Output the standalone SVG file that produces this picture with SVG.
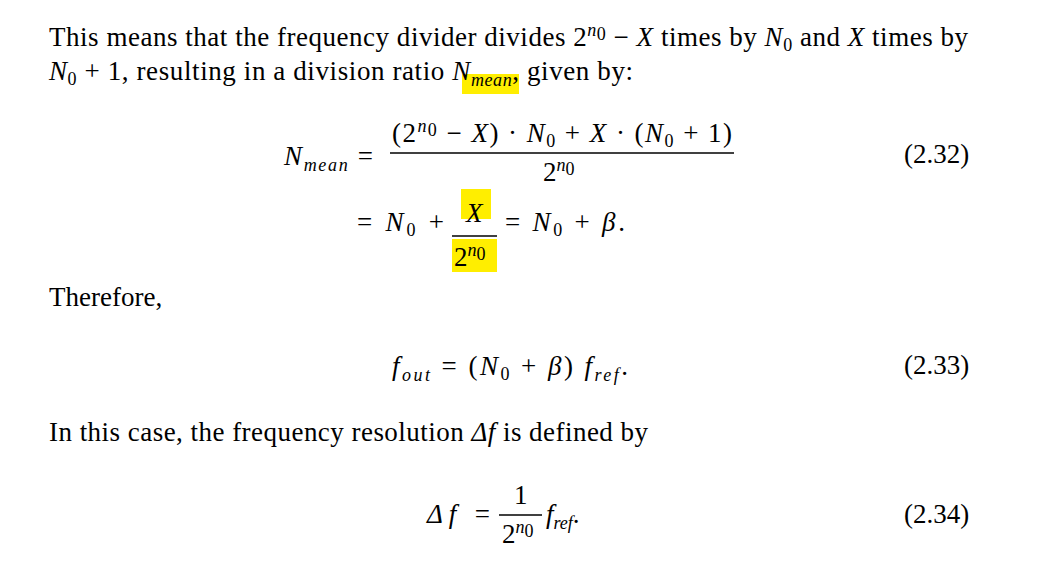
<svg xmlns="http://www.w3.org/2000/svg" width="1037" height="562" viewBox="0 0 1037 562">
<style>
text{font-family:"Liberation Serif","Times New Roman",serif;font-size:27px;fill:#000}
.i{font-style:italic}
.s{font-size:18px}
.hl{fill:#ffee00}
.bar{stroke:#000;stroke-width:1.3}
</style>
<rect width="1037" height="562" fill="#fff"/>
<g id="highlights">
<rect class="hl" x="462" y="74" width="57" height="20"/>
<rect class="hl" x="461" y="189" width="30" height="30"/>
<rect class="hl" x="452" y="239" width="45" height="33"/>
</g>
<g id="para1">
<text x="49" y="46" textLength="919" lengthAdjust="spacing">This means that the frequency divider divides 2<tspan class="i s" dy="-10">n</tspan><tspan class="s" dy="4">0</tspan><tspan dy="6"> − </tspan><tspan class="i">X</tspan> times by <tspan class="i">N</tspan><tspan class="s" dy="5">0</tspan><tspan dy="-5"> and </tspan><tspan class="i">X</tspan> times by</text>
<text x="49" y="80" textLength="584" lengthAdjust="spacing"><tspan class="i">N</tspan><tspan class="s" dy="5">0</tspan><tspan dy="-5"> + 1, resulting in a division ratio </tspan><tspan class="i">N</tspan><tspan class="i s" dy="6">mean</tspan><tspan dy="-6">, given by:</tspan></text>
</g>
<g id="eq232">
<text x="284" y="165" textLength="89" lengthAdjust="spacing"><tspan class="i">N</tspan><tspan class="i s" dy="6">mean</tspan><tspan dy="-6"> =</tspan></text>
<text x="392" y="142" textLength="340" lengthAdjust="spacing">(2<tspan class="i s" dy="-10">n</tspan><tspan class="s" dy="4">0</tspan><tspan dy="6"> − </tspan><tspan class="i">X</tspan>) · <tspan class="i">N</tspan><tspan class="s" dy="5">0</tspan><tspan dy="-5"> + </tspan><tspan class="i">X</tspan> · (<tspan class="i">N</tspan><tspan class="s" dy="5">0</tspan><tspan dy="-5"> + 1)</tspan></text>
<line class="bar" x1="390" y1="153" x2="734" y2="153"/>
<text x="543" y="181">2<tspan class="i s" dy="-10">n</tspan><tspan class="s" dy="4">0</tspan></text>
<text x="904" y="163">(2.32)</text>
<text x="357" y="231" textLength="87" lengthAdjust="spacing">= <tspan class="i">N</tspan><tspan class="s" dy="5">0</tspan><tspan dy="-5"> +</tspan></text>
<text x="466" y="222" class="i">X</text>
<line class="bar" x1="452" y1="236" x2="497" y2="236"/>
<text x="454" y="266">2<tspan class="i s" dy="-10">n</tspan><tspan class="s" dy="4">0</tspan></text>
<text x="505" y="231" textLength="120" lengthAdjust="spacing">= <tspan class="i">N</tspan><tspan class="s" dy="5">0</tspan><tspan dy="-5"> + </tspan><tspan class="i">β</tspan>.</text>
</g>
<text x="49" y="306">Therefore,</text>
<g id="eq233">
<text x="392" y="375" textLength="236" lengthAdjust="spacing"><tspan class="i">f</tspan><tspan class="i s" dy="6">out</tspan><tspan dy="-6"> = (</tspan><tspan class="i">N</tspan><tspan class="s" dy="5">0</tspan><tspan dy="-5"> + </tspan><tspan class="i">β</tspan>) <tspan class="i">f</tspan><tspan class="i s" dy="6">ref</tspan><tspan dy="-6">.</tspan></text>
<text x="904" y="374">(2.33)</text>
</g>
<text x="49" y="441" textLength="599" lengthAdjust="spacing">In this case, the frequency resolution <tspan class="i">Δf</tspan> is defined by</text>
<g id="eq234">
<text x="427" y="523" textLength="63" lengthAdjust="spacing"><tspan class="i">Δf</tspan> =</text>
<text x="514" y="504">1</text>
<line class="bar" x1="499" y1="515" x2="542" y2="515"/>
<text x="502" y="543">2<tspan class="i s" dy="-10">n</tspan><tspan class="s" dy="4">0</tspan></text>
<text x="546" y="523"><tspan class="i">f</tspan><tspan class="i s" dy="6">ref</tspan><tspan dy="-6">.</tspan></text>
<text x="904" y="523">(2.34)</text>
</g>
</svg>
